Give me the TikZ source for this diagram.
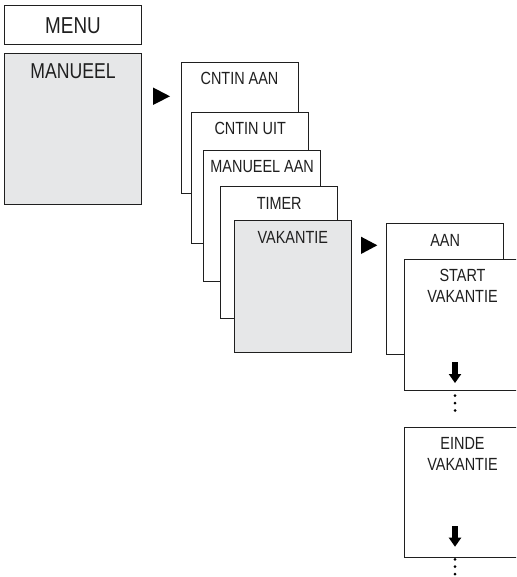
\documentclass[tikz,border=0pt]{standalone}
\usepackage{fontspec}
\setmainfont{Liberation Sans}[FakeStretch=0.82]
\usetikzlibrary{calc}
\definecolor{boxgray}{HTML}{E6E7E8}
\definecolor{ink}{HTML}{1F1F1F}
\begin{document}
\begin{tikzpicture}[x=1pt,y=-1pt,
  box/.style={draw=ink, line width=0.9pt, fill=white, minimum width=117pt, minimum height=131.5pt, anchor=north west, inner sep=0pt, outer sep=0pt},
  selbox/.style={box, fill=boxgray},
  lbl/.style={anchor=base, font=\fontsize{17.6}{21}\selectfont, text=ink, inner sep=0pt, align=center},
  biglbl/.style={lbl, font=\fontsize{23}{26}\selectfont},
  tri/.style={fill=black},
  dnarrow/.pic={\fill[black] (-3,-21) rectangle (3,-8.5); \fill[black] (-6.3,-9) -- (6.3,-9) -- (0,0) -- cycle;},
  vdots/.pic={\foreach \d in {0,7.4,14.8} \fill[black] (0,\d) circle (1.5pt);}
]
\useasboundingbox (0,0) rectangle (516,577);
\clip (0,0) rectangle (516,577);

% MENU column
\node[box, minimum width=137pt, minimum height=39pt] (menu) at (4.5,5) {};
\node[biglbl] (menut) at ($(menu.north)+(0,28.3)$) {MENU};
\node[selbox, minimum width=137pt, minimum height=151pt] (man) at (4.5,53) {};
\node[biglbl, font=\fontsize{21.5}{24}\selectfont] (mant) at ($(man.north)+(0,25.3)$) {MANUEEL};

% arrow 1
\fill[tri] (153,87.5) -- (170,96.3) -- (153,105) -- cycle;

% submenu stack
\node[box] (b1) at (181,62.3) {};
\node[lbl] (b1t) at ($(b1.north)+(0,22.7)$) {CNTIN AAN};
\node[box] (b2) at (191.7,112.3) {};
\node[lbl] (b2t) at ($(b2.north)+(0,22.7)$) {CNTIN UIT};
\node[box] (b3) at (203.7,150) {};
\node[lbl] (b3t) at ($(b3.north)+(0,22.7)$) {MANUEEL AAN};
\node[box] (b4) at (220.7,186.7) {};
\node[lbl] (b4t) at ($(b4.north)+(0,22.7)$) {TIMER};
\node[selbox] (b5) at (234.3,220.7) {};
\node[lbl] (b5t) at ($(b5.north)+(0,22.7)$) {VAKANTIE};

% arrow 2
\fill[tri] (361,236.7) -- (377.3,245.3) -- (361,254) -- cycle;

% vakantie stack
\node[box] (c1) at (386.7,223.3) {};
\node[lbl] (c1t) at ($(c1.north)+(0,22.7)$) {AAN};
\node[box] (c2) at (404,259) {};
\node[lbl] (c2t) at ($(c2.north)+(0,22.7+21)$) {START\\VAKANTIE};
\pic at (455,383) {dnarrow};
\pic at (455,395.7) {vdots};

\node[box, minimum height=130.5pt] (c3) at (404,427.3) {};
\node[lbl] (c3t) at ($(c3.north)+(0,21.9+21.5)$) {EINDE\\VAKANTIE};
\pic at (455,546.7) {dnarrow};
\pic at (455,559.3) {vdots};
\end{tikzpicture}
\end{document}
